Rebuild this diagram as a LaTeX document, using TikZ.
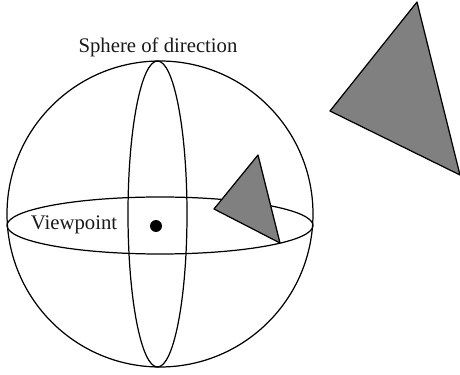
\documentclass[tikz,border=0pt]{standalone}
\usepackage{fontspec}
\setmainfont{Liberation Serif}
\definecolor{facegray}{RGB}{128,128,128}

\begin{document}
\begin{tikzpicture}[line width=0.7pt, every node/.style={font=\fontsize{11.8}{14}\selectfont, text=black!90},
    face/.style={draw=black, fill=facegray, line join=round}]
    \useasboundingbox (0,0) rectangle (9.2,7.5);

    % sphere
    \draw (3.2,3.22) circle (3.06);
    \draw (3.2,2.99) ellipse (3.06 and 0.57);
    \draw (3.15,3.22) ellipse (0.59 and 3.06);

    % viewpoint
    \fill (3.12,2.98) circle (0.12);

    % small triangle
    \coordinate (p1) at (5.16,4.40);
    \coordinate (p2) at (4.28,3.32);
    \coordinate (p3) at (5.60,2.64);
    \draw[face] (p1) -- (p2) -- (p3) -- cycle;

    % large triangle
    \coordinate (q1) at (8.34,7.46);
    \coordinate (q2) at (6.60,5.28);
    \coordinate (q3) at (9.20,4.00);
    \draw[face] (q1) -- (q2) -- (q3) -- cycle;

    % labels
    \node (sphere) at (3.16,6.56) {Sphere of direction};
    \node (view) at (1.48,3.00) {Viewpoint};
\end{tikzpicture}
\end{document}
